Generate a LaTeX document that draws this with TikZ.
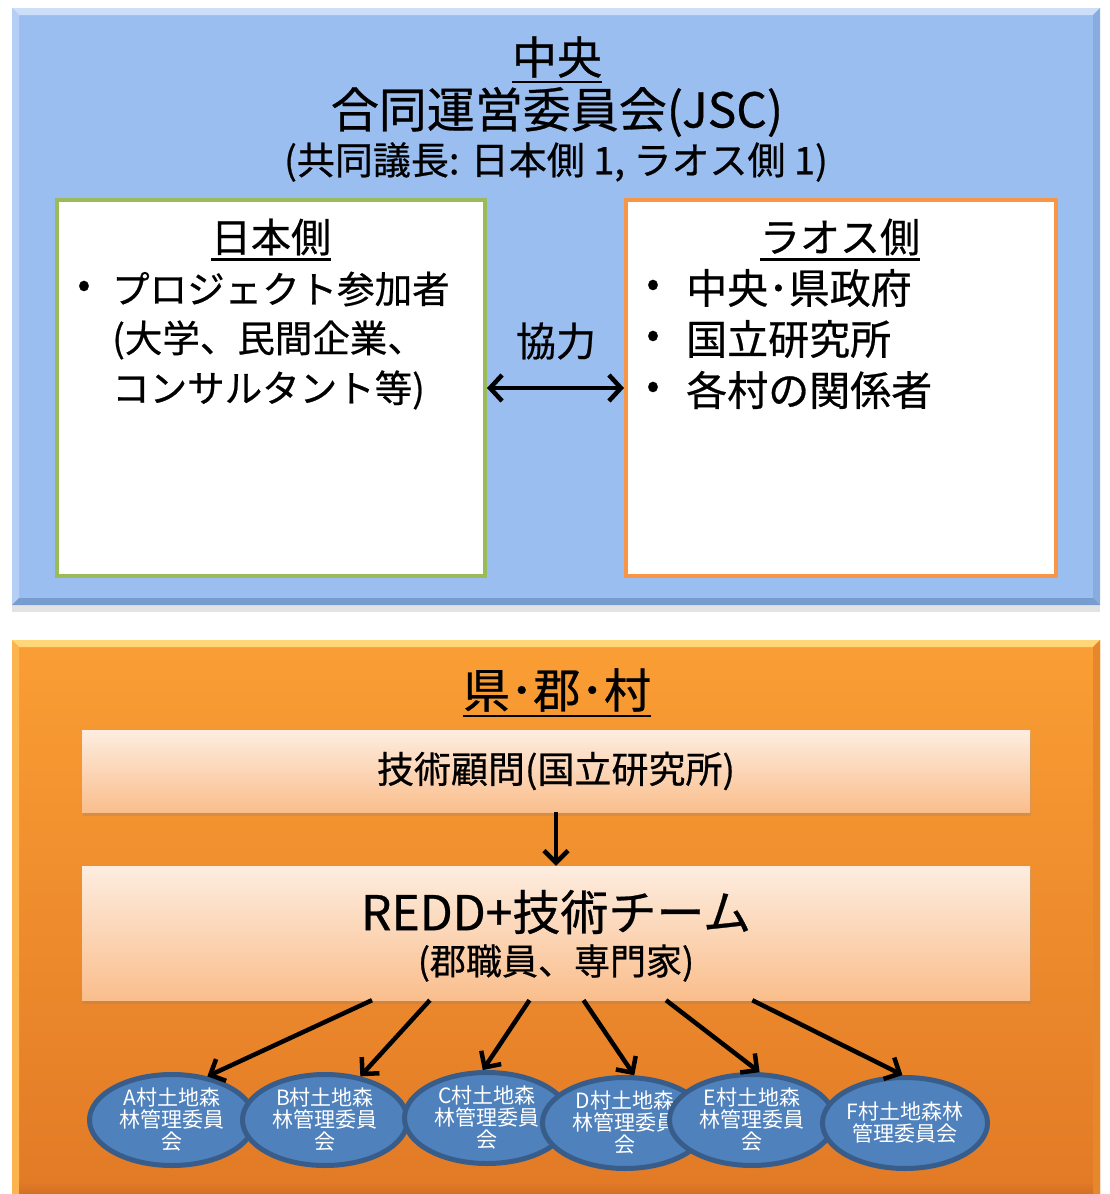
\documentclass[tikz,border=0pt]{standalone}
\usepackage{fontspec}
\setmainfont{Noto Sans CJK JP}[FakeBold=0.6]
\newfontfamily\ellfont{Noto Sans CJK JP}
\usetikzlibrary{shapes.geometric,arrows.meta,shadows,calc}
\definecolor{bluefill}{RGB}{155,190,240}
\definecolor{bluelight}{RGB}{205,222,248}
\definecolor{bluedark}{RGB}{120,155,208}
\definecolor{orangetop}{RGB}{250,158,52}
\definecolor{orangebot}{RGB}{226,122,38}
\definecolor{orangelight}{RGB}{255,214,120}
\definecolor{orangedark}{RGB}{210,112,36}
\definecolor{peachtop}{RGB}{253,237,224}
\definecolor{peachbot}{RGB}{250,190,140}
\definecolor{greenline}{RGB}{155,187,89}
\definecolor{orangeline}{RGB}{247,150,70}
\definecolor{ellfill}{RGB}{79,129,189}
\definecolor{elldraw}{RGB}{56,93,138}
\newcommand{\fsz}[1]{\fontsize{#1}{#1}\selectfont}
\begin{document}
\begin{tikzpicture}[x=1pt,y=-1pt,
  txt/.style={inner sep=0pt, text=black},
  whitebox/.style={draw, line width=4pt, fill=white, inner sep=0pt},
  peachbox/.style={top color=peachtop, bottom color=peachbot, inner sep=0pt,
     minimum width=948pt, text=black,
     drop shadow={shadow xshift=1pt, shadow yshift=-4pt, opacity=0.25}},
  ell/.style={ellipse, draw=elldraw, line width=5pt, fill=ellfill,
     minimum width=165pt, minimum height=91pt, inner sep=0pt, text=white,
     align=center, font=\ellfont\fontsize{21}{22}\selectfont},
  arr/.style={line width=4.5pt, -{Straight Barb[length=12pt,width=24pt]}},
  ularr/.style={line width=2.5pt}
]
\useasboundingbox (0,0) rectangle (1109,1194);

% ---------- blue panel ----------
\fill[bluefill, drop shadow={shadow xshift=0pt, shadow yshift=-7pt, opacity=0.22}] (12,8) rectangle (1100,605);
\fill[bluelight] (12,8) -- (1100,8) -- (1093,15) -- (19,15) -- cycle;
\fill[bluelight!50!bluefill] (12,8) -- (19,15) -- (19,598) -- (12,605) -- cycle;
\fill[bluedark!50!bluefill] (1100,8) -- (1093,15) -- (1093,598) -- (1100,605) -- cycle;
\fill[bluedark] (12,605) -- (19,598) -- (1093,598) -- (1100,605) -- cycle;

\node[txt, font=\fsz{45}] (hc) at (557,57) {中央};
\draw[ularr] ([yshift=-4pt]hc.south west) -- ([yshift=-4pt]hc.south east);
\node[txt, font=\fsz{48}] (jsc) at (557,112) {合同運営委員会(JSC)};
\node[txt, font=\fsz{38}] (chair) at (556,162) {(共同議長: 日本側 1, ラオス側 1)};

\node[whitebox, draw=greenline, minimum width=428pt, minimum height=376pt] (lbox) at (271,388) {};
\node[whitebox, draw=orangeline, minimum width=430pt, minimum height=376pt] (rbox) at (841,388) {};

\node[txt, font=\fsz{40}] (jp) at (271,237) {日本側};
\draw[ularr] ([yshift=-4pt]jp.south west) -- ([yshift=-4pt]jp.south east);
\node[txt, font=\fsz{38}] (lb1) at (84,289) {•};
\node[txt, font=\fsz{37.5}, anchor=west] (l1) at (112,289) {プロジェクト参加者};
\node[txt, font=\fsz{37.5}, anchor=west] (l2) at (112,340) {(大学、民間企業、};
\node[txt, font=\fsz{37.5}, anchor=west] (l3) at (112,390) {コンサルタント等)};

\node[txt, font=\fsz{40}] (la) at (840,237) {ラオス側};
\draw[ularr] ([yshift=-4pt]la.south west) -- ([yshift=-4pt]la.south east);
\node[txt, font=\fsz{38}] (rb1) at (653,288) {•};
\node[txt, font=\fsz{38}] (rb2) at (653,339) {•};
\node[txt, font=\fsz{38}] (rb3) at (653,390) {•};
\node[txt, font=\fsz{41}, anchor=west] (r1) at (686,288) {中央･県政府};
\node[txt, font=\fsz{41}, anchor=west] (r2) at (686,339) {国立研究所};
\node[txt, font=\fsz{41}, anchor=west] (r3) at (686,390) {各村の関係者};

\node[txt, font=\fsz{40}] (coop) at (556,341) {協力};
\draw[line width=4.5pt, {Straight Barb[length=12pt,width=26pt]}-{Straight Barb[length=12pt,width=26pt]}] (lbox.east) -- (rbox.west);

% ---------- orange panel ----------
\shade[top color=orangetop, bottom color=orangebot] (12,640) rectangle (1100,1194);
\fill[orangelight] (12,640) -- (1100,640) -- (1093,647) -- (19,647) -- cycle;
\fill[orangelight!40!orangetop] (12,640) -- (19,647) -- (19,1194) -- (12,1194) -- cycle;
\fill[orangedark!50!orangetop] (1100,640) -- (1093,647) -- (1093,1194) -- (1100,1194) -- cycle;
\shade[top color=orangebot, bottom color=orangedark] (19,1182) rectangle (1093,1194);

\node[txt, font=\fsz{47}] (pref) at (557,690) {県･郡･村};
\draw[ularr] ([yshift=-4pt]pref.south west) -- ([yshift=-4pt]pref.south east);

\node[peachbox, minimum height=82pt, font=\fsz{37}] (box1) at (556,771) {技術顧問(国立研究所)};
\node[peachbox, minimum height=134pt] (box2) at (556,933) {};
\node[txt, font=\fsz{48}] (redd) at (556,912) {REDD+技術チーム};
\node[txt, font=\fsz{36}] (staff) at (556,963) {(郡職員、専門家)};

\draw[arr] (box1.south) -- (box2.north);

\node[ell] (A) at (172,1120) {A村土地森\\林管理委員\\会};
\node[ell] (B) at (325,1120) {B村土地森\\林管理委員\\会};
\node[ell] (C) at (487,1118) {C村土地森\\林管理委員\\会};
\node[ell] (D) at (625,1123) {D村土地森\\林管理委員\\会};
\node[ell] (E) at (752,1120) {E村土地森\\林管理委員\\会};
\node[ell] (F) at (905,1123) {F村土地森林\\管理委員会};

\draw[arr] ($(box2.south west)!0.306!(box2.south east)$) -- (A.51);
\draw[arr] ($(box2.south west)!0.367!(box2.south east)$) -- (B.51);
\draw[arr] ($(box2.south west)!0.472!(box2.south east)$) -- (C.95);
\draw[arr] ($(box2.south west)!0.529!(box2.south east)$) -- (D.79);
\draw[arr] ($(box2.south west)!0.616!(box2.south east)$) -- (E.81);
\draw[arr] ($(box2.south west)!0.707!(box2.south east)$) -- (F.93);
\end{tikzpicture}
\end{document}
